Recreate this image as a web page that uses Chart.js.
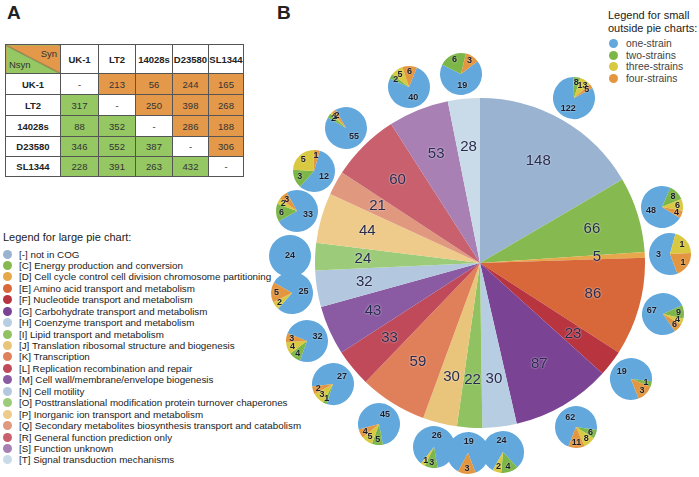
<!DOCTYPE html>
<html>
<head>
<meta charset="utf-8">
<script src="https://cdn.jsdelivr.net/npm/chart.js@4.4.1/dist/chart.umd.min.js"></script>
<style>
body { margin: 0; width: 699px; height: 477px; position: relative; overflow: hidden; background: #fff; font-family: "Liberation Sans", Arial, sans-serif; color: #222; }
.panel { position: absolute; font-size: 19px; font-weight: bold; top: 2px; }
#tbl { position: absolute; left: 5px; top: 44px; border-collapse: collapse; font-size: 9.5px; color: #333; }
#tbl td { border: 1px solid #555; text-align: center; padding: 0; }
#tbl td.hd { font-weight: bold; color: #222; }
#tbl td.syn { background: #e3984a; }
#tbl td.nsyn { background: #95c763; }
#tbl td.corner { position: relative; background: linear-gradient(to top right, #95c763 calc(50% - 0.6px), #555 50%, #e3984a calc(50% + 0.6px)); }
#tbl td.corner span { position: absolute; font-size: 9.5px; color: #333; }
#legL { position: absolute; left: 3px; top: 231px; }
#legR { position: absolute; left: 608px; top: 9px; }
.ltitle { font-size: 11px; color: #222; line-height: 13px; }
.item { position: absolute; white-space: nowrap; font-size: 9.8px; line-height: 11px; }
.dot { position: absolute; width: 9px; height: 9px; border-radius: 50%; }
#big { position: absolute; left: 315px; top: 98px; }
.small { position: absolute; }
</style>
</head>
<body>
<div class="panel" style="left:7px">A</div>
<div class="panel" style="left:277px">B</div>
<table id="tbl"></table>
<div id="legL"></div>
<div id="legR"></div>
<canvas id="big" width="330" height="330"></canvas>
<script>
// panel A: pairwise SNP counts between strains
const strains = ["UK-1", "LT2", "14028s", "D23580", "SL1344"];
const rowUK1 = [null, 213, 56, 244, 165];
const rowLT2 = [317, null, 250, 398, 268];
const row14028s = [88, 352, null, 286, 188];
const rowD23580 = [346, 552, 387, null, 306];
const rowSL1344 = [228, 391, 263, 432, null];

// panel B: COG categories of the large pie
const cogCodes = ["-", "C", "D", "E", "F", "G", "H", "I", "J", "K", "L", "M", "N", "O", "P", "Q", "R", "S", "T"];
const cogNames = [
  "not in COG",
  "Energy production and conversion",
  "Cell cycle control cell division chromosome partitioning",
  "Amino acid transport and metabolism",
  "Nucleotide transport and metabolism",
  "Carbohydrate transport and metabolism",
  "Coenzyme transport and metabolism",
  "Lipid transport and metabolism",
  "Translation ribosomal structure and biogenesis",
  "Transcription",
  "Replication recombination and repair",
  "Cell wall/membrane/envelope biogenesis",
  "Cell motility",
  "Posttranslational modification protein turnover chaperones",
  "Inorganic ion transport and metabolism",
  "Secondary metabolites biosynthesis transport and catabolism",
  "General function prediction only",
  "Function unknown",
  "Signal transduction mechanisms"
];
const cogCounts = [148, 66, 5, 86, 23, 87, 30, 22, 30, 59, 33, 43, 32, 24, 44, 21, 60, 53, 28];

// small outside pies, one per COG category
const strainLabels = ["one-strain", "two-strains", "three-strains", "four-strains"];
const oneStrain = [122, 48, 3, 67, 19, 62, 24, 19, 26, 45, 27, 32, 25, 24, 33, 12, 55, 40, 19];
const twoStrains = [8, 8, 0, 9, 1, 6, 4, 0, 3, 5, 1, 4, 0, 0, 6, 3, 2, 2, 6];
const threeStrains = [13, 6, 1, 4, 0, 8, 2, 0, 1, 5, 3, 4, 2, 0, 2, 5, 1, 5, 0];
const fourStrains = [5, 4, 1, 6, 3, 11, 0, 3, 0, 4, 2, 3, 5, 0, 3, 1, 2, 6, 3];

const cogColors = ["#9ab3d1", "#86ba50", "#e6a84a", "#d8683a", "#b8343f", "#7b4394", "#b6cde2", "#90c262",
  "#e8c57a", "#e0805a", "#c04a5a", "#8a5ba2", "#b3c8de", "#9ccc7a", "#eecb8a", "#e0987f", "#c8606e", "#a880b4", "#c9dbe9"];
const strainColors = ["#62a8dc", "#7cb648", "#d9c941", "#e3963f"];

// ---- table
const rows = [rowUK1, rowLT2, row14028s, rowD23580, rowSL1344];
const colW = [55, 38, 37, 37, 36, 35];
const rowH = [21, 21, 21, 20, 20];
const tbl = document.getElementById("tbl");
let html = '<tr style="height:29px"><td class="corner" style="width:' + (colW[0] - 1) + 'px">' +
  '<span style="right:3px;top:3px">Syn</span><span style="left:3px;bottom:3px">Nsyn</span></td>';
strains.forEach((s, j) => { html += '<td class="hd" style="width:' + (colW[j + 1] - 1) + 'px">' + s + "</td>"; });
html += "</tr>";
rows.forEach((r, i) => {
  html += '<tr style="height:' + rowH[i] + 'px"><td class="hd">' + strains[i] + "</td>";
  r.forEach((v, j) => {
    const cls = v === null ? "" : (j > i ? "syn" : "nsyn");
    html += '<td class="' + cls + '">' + (v === null ? "-" : v) + "</td>";
  });
  html += "</tr>";
});
tbl.innerHTML = html;

// ---- legends
const legL = document.getElementById("legL");
let lh = '<div class="ltitle">Legend for large pie chart:</div>';
cogCodes.forEach((c, i) => {
  const y = 17.5 + i * 11.44;
  lh += '<div class="dot" style="left:0px;top:' + (y + 1) + 'px;background:' + cogColors[i] + '"></div>';
  lh += '<div class="item" style="left:16px;top:' + y + 'px">[' + c + "] " + cogNames[i] + "</div>";
});
legL.innerHTML = lh;

const legR = document.getElementById("legR");
let rh = '<div class="ltitle">Legend for small<br>outside pie charts:</div>';
strainLabels.forEach((s, i) => {
  const y = 29 + i * 11.7;
  rh += '<div class="dot" style="left:1px;top:' + (y + 1) + 'px;background:' + strainColors[i] + '"></div>';
  rh += '<div class="item" style="left:18px;top:' + y + 'px;color:#444;font-size:10.3px">' + s + "</div>";
});
legR.innerHTML = rh;

// ---- label plugins
const bigLabels = {
  id: "bigLabels",
  afterDatasetsDraw(chart) {
    const ctx = chart.ctx;
    ctx.save();
    ctx.font = '15px "Liberation Sans", Arial';
    ctx.textAlign = "center";
    ctx.textBaseline = "middle";
    ctx.fillStyle = "#282a4e";
    ctx.shadowColor = "rgba(255,255,255,0.8)";
    ctx.shadowBlur = 2;
    chart.getDatasetMeta(0).data.forEach((arc, i) => {
      const mid = (arc.startAngle + arc.endAngle) / 2;
      const r = arc.outerRadius * 0.71;
      ctx.fillText(chart.data.datasets[0].data[i], arc.x + Math.cos(mid) * r, arc.y + Math.sin(mid) * r);
    });
    ctx.restore();
  }
};

const smallLabels = {
  id: "smallLabels",
  afterDatasetsDraw(chart) {
    const ctx = chart.ctx;
    const vals = chart.data.datasets[0].data;
    const full = vals.filter(v => v > 0).length === 1;
    ctx.save();
    ctx.font = 'bold 9px "Liberation Sans", Arial';
    ctx.textAlign = "center";
    ctx.textBaseline = "middle";
    ctx.fillStyle = "#1c1c28";
    ctx.shadowColor = "rgba(255,255,255,0.7)";
    ctx.shadowBlur = 2;
    chart.getDatasetMeta(0).data.forEach((arc, j) => {
      if (!vals[j]) return;
      const mid = (arc.startAngle + arc.endAngle) / 2;
      const r = full ? 0 : arc.outerRadius * (j === 0 ? 0.55 : 0.74);
      ctx.fillText(vals[j], arc.x + Math.cos(mid) * r, arc.y + Math.sin(mid) * r);
    });
    ctx.restore();
  }
};

// ---- large pie
const bigCanvas = document.getElementById("big");
const bigChart = new Chart(bigCanvas, {
  type: "pie",
  data: {
    labels: cogCodes.map((c, i) => "[" + c + "] " + cogNames[i]),
    datasets: [{ data: cogCounts, backgroundColor: cogColors, borderWidth: 0 }]
  },
  options: {
    responsive: false,
    animation: false,
    layout: { padding: 0 },
    plugins: { legend: { display: false }, tooltip: { enabled: false } }
  },
  plugins: [bigLabels]
});

// ---- small pies placed outside each slice
const smallR = 22;
const dist = 190;
bigChart.getDatasetMeta(0).data.forEach((arc, i) => {
  const mid = (arc.startAngle + arc.endAngle) / 2;
  const cx = bigCanvas.offsetLeft + arc.x + Math.cos(mid) * dist;
  const cy = bigCanvas.offsetTop + arc.y + Math.sin(mid) * dist;
  const cv = document.createElement("canvas");
  cv.className = "small";
  cv.width = smallR * 2;
  cv.height = smallR * 2;
  cv.style.left = (cx - smallR) + "px";
  cv.style.top = (cy - smallR) + "px";
  document.body.appendChild(cv);
  const vals = [oneStrain[i], twoStrains[i], threeStrains[i], fourStrains[i]];
  const total = vals.reduce((a, b) => a + b, 0);
  const blueDeg = oneStrain[i] / total * 360;
  // blue slice faces the big pie, the minor slices face outward
  const rot = mid * 180 / Math.PI + 90 - 180 - blueDeg / 2;
  new Chart(cv, {
    type: "pie",
    data: { labels: strainLabels, datasets: [{ data: vals, backgroundColor: strainColors, borderWidth: 0 }] },
    options: {
      responsive: false,
      animation: false,
      rotation: rot,
      layout: { padding: 1 },
      plugins: { legend: { display: false }, tooltip: { enabled: false } }
    },
    plugins: [smallLabels]
  });
});
</script>
</body>
</html>
